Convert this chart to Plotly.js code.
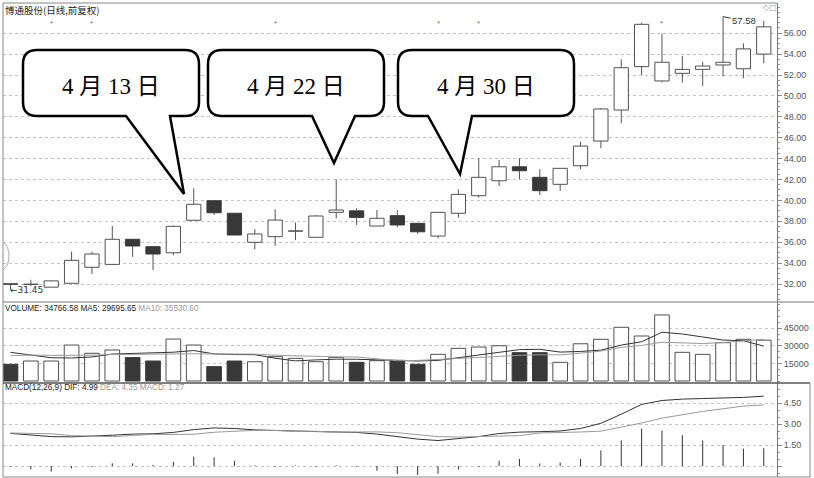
<!DOCTYPE html>
<html><head><meta charset="utf-8">
<script src="https://cdn.plot.ly/plotly-3.0.1.min.js"></script>
<style>html,body{margin:0;padding:0;background:#fff;}#chart{width:814px;height:478px;}</style>
</head><body><div id="chart"></div>
<script>
// ---------------- data ----------------
const dayIdx = [0,1,2,3,4,5,6,7,8,9,10,11,12,13,14,15,16,17,18,19,20,21,22,23,24,25,26,27,28,29,30,31,32,33,34,35,36,37];
const openP  = [32.02,31.95,31.70,32.07,33.60,33.88,36.28,35.57,34.99,38.10,39.97,38.77,35.99,36.53,37.05,36.47,38.86,39.00,37.55,38.54,37.81,36.59,38.77,40.45,41.88,43.22,42.21,41.54,43.32,45.68,48.65,52.80,51.43,52.16,52.54,52.96,52.60,54.00];
const highP  = [32.10,32.40,32.35,35.10,35.10,37.55,36.30,35.60,37.60,41.16,40.00,38.80,37.26,39.15,37.87,38.60,42.02,39.24,39.08,39.08,37.85,38.90,41.06,44.03,43.87,44.03,42.98,43.10,45.62,48.84,53.50,57.00,55.96,53.82,53.27,57.58,55.03,57.17];
const lowP   = [31.45,31.80,31.70,32.07,32.96,33.88,34.60,33.34,34.75,38.10,38.60,36.69,35.32,35.64,36.20,36.47,38.29,37.65,37.55,37.43,36.80,36.37,38.35,40.26,41.38,42.02,40.52,40.90,43.00,44.99,47.38,52.00,51.30,51.27,50.95,51.84,51.68,53.12];
const closeP = [31.98,31.97,32.30,34.27,34.87,36.28,35.64,34.87,37.52,39.63,38.82,36.69,36.79,38.12,37.09,38.51,39.08,38.38,38.29,37.65,37.00,38.86,40.58,42.21,43.22,42.84,40.93,43.07,45.20,48.75,52.70,56.85,53.22,52.54,52.86,53.22,54.50,56.61];
const volume = [14200,17000,17000,30600,23600,26400,19900,17000,35700,30600,12200,17000,16400,20700,19300,16400,20100,15900,17300,17600,14200,22700,27800,28900,30000,24100,24100,15900,31700,35500,45700,38300,56200,24400,22700,32600,35500,34767];
const volMA5  = [24400,22000,19800,19600,20480,22920,23500,23500,24520,25920,23080,22500,22380,19380,17120,17960,18580,18480,17800,17460,17020,17540,19920,22240,24720,26700,26980,24600,25160,26260,30580,33420,41480,40020,37460,34840,34280,29696];
const volMA10 = [21500,22100,21800,21600,22000,22500,22800,22600,23000,23200,23000,23000,22940,21950,21520,20520,20540,20430,18590,17290,17490,18060,19200,20020,21090,21860,22260,22260,23700,25490,28640,30200,33040,32590,31860,32710,33850,35531];
const difLine = [2.33,2.20,2.10,2.08,2.12,2.20,2.28,2.30,2.40,2.60,2.72,2.68,2.58,2.52,2.50,2.46,2.44,2.40,2.28,2.10,1.92,1.82,1.95,2.10,2.32,2.42,2.45,2.50,2.68,3.05,3.70,4.40,4.68,4.78,4.82,4.84,4.90,4.99];
const deaLine = [2.36,2.32,2.30,2.17,2.16,2.10,2.18,2.26,2.25,2.27,2.41,2.50,2.55,2.54,2.48,2.48,2.42,2.43,2.44,2.38,2.24,2.10,2.07,2.12,2.14,2.17,2.36,2.38,2.43,2.49,2.78,3.07,3.42,3.68,3.90,4.09,4.28,4.36];
const macdHist = [-0.05,-0.24,-0.40,-0.17,-0.08,0.19,0.19,0.08,0.30,0.67,0.62,0.36,0.05,-0.05,0.04,-0.05,0.05,-0.06,-0.33,-0.57,-0.65,-0.55,-0.25,-0.05,0.37,0.50,0.18,0.25,0.50,1.12,1.83,2.67,2.53,2.20,1.83,1.50,1.24,1.27];
const priceTicks = [32,34,36,38,40,42,44,46,48,50,52,54,56];
const volTicks = [15000,30000,45000];
const macdTicks = [0,1.5,3,4.5];
const macdTickText = ['','1.50','3.00','4.50'];
const eventIdx = [2,4,13,21,23,32];
const stockTitle = '博通股份(日线,前复权)';
const volHeader = {vol:'34766.58', ma5:'29695.65', ma10:'35530.60'};
const macdHeader = {dif:'4.99', dea:'4.35', macd:'1.27'};
const lowMark = {idx:0, val:31.45};
const highMark = {idx:35, val:57.58};
const callouts = [
  {text:'4 月 13 日', left:23, right:199, top:50, bottom:116, baseL:126, tipX:184, tipY:194, baseR:170},
  {text:'4 月 22 日', left:208, right:384, top:50, bottom:116, baseL:312, tipX:334, tipY:163, baseR:355},
  {text:'4 月 30 日', left:398, right:574, top:50, bottom:116, baseL:428, tipX:460, tipY:174, baseR:472}
];

// ---------------- geometry helpers (pixel -> paper) ----------------
const PL=3, PR=777, PT=3, PB=477;
const pxX = x => (x-PL)/(PR-PL);
const pxY = y => (PB-y)/(PB-PT);

// ---------------- traces ----------------
const isUp = closeP.map((c,i)=> c >= openP[i]);
const bodyBase = openP.map((o,i)=> Math.min(o, closeP[i]));
const bodyLen = openP.map((o,i)=> Math.max(Math.abs(closeP[i]-o), 0.04));
const wx=[], wy=[];
dayIdx.forEach(i=>{
  const top=Math.max(openP[i],closeP[i]), bot=Math.min(openP[i],closeP[i]);
  if (highP[i]>top){wx.push(i,i,null); wy.push(top,highP[i],null);}
  if (lowP[i]<bot){wx.push(i,i,null); wy.push(lowP[i],bot,null);}
});
const hx=[], hy=[];
dayIdx.forEach(i=>{hx.push(i,i,null); hy.push(0,macdHist[i],null);});

const DARK='#383838', EDGE='#505050';
const traces = [
  {type:'scatter', mode:'lines', x:wx, y:wy, xaxis:'x', yaxis:'y', line:{color:'#555', width:1}, hoverinfo:'skip'},
  {type:'bar', x:dayIdx, base:bodyBase, y:bodyLen, width:0.7, xaxis:'x', yaxis:'y',
   marker:{color:isUp.map(u=>u?'#ffffff':DARK), line:{color:isUp.map(u=>u?EDGE:DARK), width:1}}},
  {type:'bar', x:dayIdx, y:volume, width:0.72, xaxis:'x', yaxis:'y2',
   marker:{color:isUp.map(u=>u?'#ffffff':DARK), line:{color:isUp.map(u=>u?EDGE:DARK), width:1}}},
  {type:'scatter', mode:'lines', x:dayIdx, y:volMA5, xaxis:'x', yaxis:'y2', line:{color:'#333', width:1}},
  {type:'scatter', mode:'lines', x:dayIdx, y:volMA10, xaxis:'x', yaxis:'y2', line:{color:'#9a9a9a', width:1}},
  {type:'scatter', mode:'lines', x:hx, y:hy, xaxis:'x', yaxis:'y3', line:{color:'#333', width:1}},
  {type:'scatter', mode:'lines', x:dayIdx, y:difLine, xaxis:'x', yaxis:'y3', line:{color:'#333', width:1}},
  {type:'scatter', mode:'lines', x:dayIdx, y:deaLine, xaxis:'x', yaxis:'y3', line:{color:'#9a9a9a', width:1}}
];

// ---------------- shapes ----------------
const lineShape = (x0,y0,x1,y1,color,w)=>({type:'line', xref:'paper', yref:'paper', x0:pxX(x0), y0:pxY(y0), x1:pxX(x1), y1:pxY(y1), line:{color:color||'#777', width:w||1}});
const shapes = [
  lineShape(3,3,777,3,'#888'),
  lineShape(3,3,3,477,'#888'),
  lineShape(3,477,810,477,'#888'),
  lineShape(3,302,814,302,'#777'),
  lineShape(3,383,810,383,'#555',1.5),
  lineShape(810,383,810,477,'#888'),
  {type:'path', xref:'paper', yref:'paper', line:{color:'#aaa', width:1},
   path:`M ${pxX(3)},${pxY(242)} Q ${pxX(9)},${pxY(246)} ${pxX(9)},${pxY(256)} Q ${pxX(9)},${pxY(266)} ${pxX(3)},${pxY(270)}`}
];
callouts.forEach(c=>{
  const r=14;
  const P=(x,y)=>`${pxX(x)},${pxY(y)}`;
  const path = `M ${P(c.left+r,c.top)} L ${P(c.right-r,c.top)} Q ${P(c.right,c.top)} ${P(c.right,c.top+r)} `+
    `L ${P(c.right,c.bottom-r)} Q ${P(c.right,c.bottom)} ${P(c.right-r,c.bottom)} `+
    `L ${P(c.baseR,c.bottom)} L ${P(c.tipX,c.tipY)} L ${P(c.baseL,c.bottom)} `+
    `L ${P(c.left+r,c.bottom)} Q ${P(c.left,c.bottom)} ${P(c.left,c.bottom-r)} `+
    `L ${P(c.left,c.top+r)} Q ${P(c.left,c.top)} ${P(c.left+r,c.top)} Z`;
  shapes.push({type:'path', xref:'paper', yref:'paper', path:path, fillcolor:'#ffffff', line:{color:'#000', width:2.5}, layer:'above'});
});

// ---------------- annotations ----------------
const SANS='Liberation Sans, Arial, sans-serif';
const annotations = [
  {xref:'paper', yref:'paper', x:0, y:pxY(10), xanchor:'left', yanchor:'middle', showarrow:false,
   text:stockTitle, font:{family:'Noto Sans CJK SC', size:9.5, color:'#222'}},
  {xref:'paper', yref:'paper', x:0, y:pxY(308), xanchor:'left', yanchor:'middle', showarrow:false,
   text:`<span style="color:#222">VOLUME: ${volHeader.vol} MA5: ${volHeader.ma5} </span><span style="color:#999">MA10: ${volHeader.ma10}</span>`,
   font:{family:SANS, size:8.2}},
  {xref:'paper', yref:'paper', x:0, y:pxY(387.5), xanchor:'left', yanchor:'middle', showarrow:false,
   text:`<span style="color:#222">MACD(12,26,9) DIF: ${macdHeader.dif} </span><span style="color:#999">DEA: ${macdHeader.dea} MACD: ${macdHeader.macd}</span>`,
   font:{family:SANS, size:8.2}},
  {xref:'x', yref:'y', x:lowMark.idx, y:lowMark.val, xanchor:'left', yanchor:'middle', showarrow:false, xshift:-2,
   text:'←'+lowMark.val.toFixed(2), font:{family:'DejaVu Sans', size:9, color:'#333'}},
  {xref:'x', yref:'y', x:highMark.idx, y:highMark.val, showarrow:true, arrowhead:0, arrowwidth:1, arrowcolor:'#333',
   ax:21, ay:4, standoff:0, text:highMark.val.toFixed(2), font:{family:SANS, size:9.5, color:'#333'}},
  {xref:'paper', yref:'paper', x:pxX(770), y:pxY(8), xanchor:'center', yanchor:'middle', showarrow:false,
   text:'◇□', font:{family:'DejaVu Sans', size:8, color:'#999'}}
];
eventIdx.forEach(i=>annotations.push({xref:'x', yref:'paper', x:i, y:pxY(16.5), showarrow:false,
  text:'*', font:{family:SANS, size:8, color:'#777'}}));
callouts.forEach(c=>annotations.push({xref:'paper', yref:'paper', x:pxX((c.left+c.right)/2), y:pxY(87),
  xanchor:'center', yanchor:'middle', showarrow:false, text:c.text,
  font:{family:'Liberation Serif, Noto Sans CJK SC, serif', size:23, color:'#000'}}));

// ---------------- layout ----------------
const yBase = {side:'right', anchor:'x', showgrid:true, gridcolor:'#c4c4c4', griddash:'dot', gridwidth:1,
  zeroline:false, showline:true, linecolor:'#777', linewidth:1, ticks:'outside', ticklen:4, tickcolor:'#888',
  tickfont:{family:SANS, size:9, color:'#555'}, fixedrange:true,
  minor:{ticks:'outside', ticklen:2, tickcolor:'#999', showgrid:false}};
const layout = {
  width:814, height:478, margin:{l:3, r:37, t:3, b:1}, paper_bgcolor:'#fff', plot_bgcolor:'#fff',
  showlegend:false, hovermode:false, barmode:'overlay', font:{family:SANS},
  xaxis:{domain:[0,1], range:[-0.368,37.65], anchor:'y3', showticklabels:false, showgrid:false, zeroline:false, showline:false, ticks:'', fixedrange:true},
  yaxis:Object.assign({}, yBase, {domain:[pxY(302),1], range:[30.28,58.89], tickvals:priceTicks, tickformat:'.2f', minor:Object.assign({}, yBase.minor, {dtick:0.5, tick0:0})}),
  yaxis2:Object.assign({}, yBase, {domain:[pxY(383),pxY(302)], range:[-1700,67230], tickvals:volTicks, tickformat:'d', minor:Object.assign({}, yBase.minor, {dtick:5000, tick0:0})}),
  yaxis3:Object.assign({}, yBase, {domain:[0,pxY(383)], range:[-0.786,5.93], tickvals:macdTicks, ticktext:macdTickText, minor:Object.assign({}, yBase.minor, {dtick:0.5, tick0:0})}),
  shapes:shapes, annotations:annotations
};
Plotly.newPlot('chart', traces, layout, {staticPlot:true, displayModeBar:false});
</script></body></html>
